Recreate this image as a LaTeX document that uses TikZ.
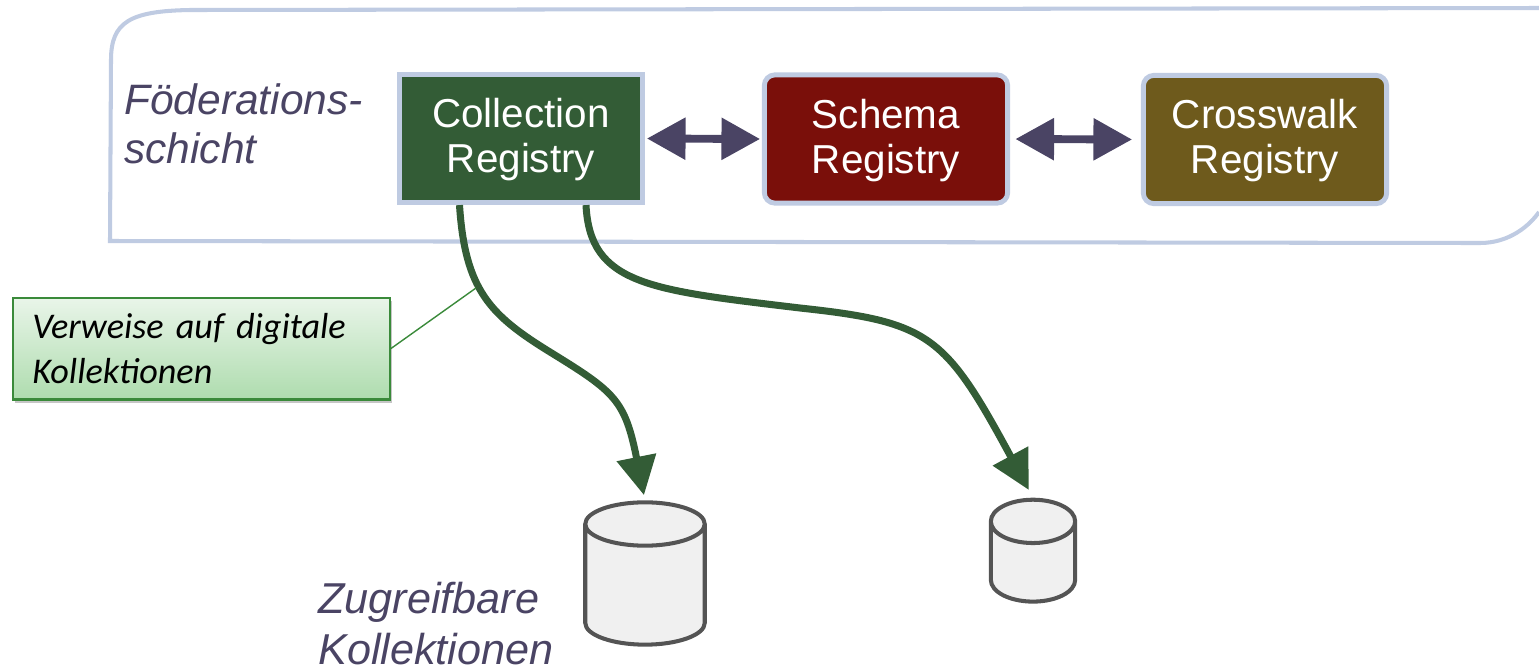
\documentclass[tikz,border=0pt]{standalone}
\usepackage{fontspec}
\setmainfont{Liberation Sans}
\newfontfamily\calloutfont{Carlito}
\usetikzlibrary{arrows.meta,shapes.geometric,shadows}
\definecolor{edgeblue}{HTML}{BFCBE2}
\definecolor{slatetext}{HTML}{4A4464}
\definecolor{collgreen}{HTML}{335C36}
\definecolor{schemared}{HTML}{7A0F0A}
\definecolor{walkbrown}{HTML}{6E5A1C}
\definecolor{noteline}{HTML}{3A8A3A}
\definecolor{notetop}{HTML}{E9F5E9}
\definecolor{notebottom}{HTML}{AEDCAE}
\tikzset{
    regbox/.style={draw=edgeblue, line width=2.8pt, minimum width=138.5pt, minimum height=73pt, align=center, text=white, font=\fontsize{23}{25.5}\selectfont, text height=43.8pt},
    layerlabel/.style={align=left, text=slatetext, font=\fontsize{24.2}{28.3}\selectfont\itshape},
    dbstore/.style={draw=black!67, fill=black!6, line width=2.3pt, shape=cylinder, shape border rotate=90, aspect=3.7},
    linkarrow/.style={draw=slatetext, line width=4.5pt, {Triangle[length=22pt,width=23pt]}-{Triangle[length=22pt,width=23pt]}},
    refarrow/.style={draw=collgreen, line width=4pt, -{Triangle[length=22pt,width=22pt]}}
}
\begin{document}
\begin{tikzpicture}[x=0.02cm,y=-0.02cm]
            \useasboundingbox (0,0) rectangle (1539,667);
            % outer layer frame
            \draw[edgeblue, line width=2.3pt] (1539,8)--(190,10) .. controls (130,11) and (111,22) .. (111,60)--(110,241)--(1480,243) .. controls (1510,243) and (1530,225) .. (1539,212);
            \node[layerlabel, anchor=north west] (layer) at (118,77) {Föderations-\\schicht};
            \node[regbox, fill=collgreen] (coll) at (521,138.5) {Collection\\Registry};
            \node[regbox, fill=schemared, rounded corners=6pt] (schema) at (886,139) {Schema\\Registry};
            \node[regbox, fill=walkbrown, rounded corners=6pt] (walk) at (1265,139.5) {Crosswalk\\Registry};
            \draw[linkarrow, shorten >=1pt, shorten <=1pt] (coll.east)--(schema.west);
            \draw[linkarrow, shorten >=5pt, shorten <=3pt] (schema.east)--(walk.west);
            % collections
            \node[dbstore, minimum width=68pt, minimum height=81pt] (bigdb) at (645,590) {};
            \node[dbstore, minimum width=48pt, minimum height=58pt] (smalldb) at (1033,568) {};
            \node[layerlabel, anchor=north west, font=\fontsize{24.6}{29}\selectfont\itshape] (access) at (312,576) {Zugreifbare\\Kollektionen};
            \draw[refarrow, shorten >=3pt] ([xshift=-35pt]coll.south) .. controls (465,290) and (490,315) .. (550,352) .. controls (615,392) and (625,400) .. (bigdb.north);
            \draw[refarrow, shorten >=5pt] ([xshift=37pt]coll.south) .. controls (590,285) and (650,290) .. (800,308) .. controls (930,322) and (945,335) .. (smalldb.north);
            % note
            \node[draw=noteline, line width=1.2pt, top color=notetop, bottom color=notebottom, drop shadow={opacity=0.45, shadow xshift=1pt, shadow yshift=-2pt}, minimum width=214.5pt, minimum height=58pt, align=left, anchor=north west, text width=192.6pt, inner sep=0pt, font=\calloutfont\itshape\fontsize{20.6}{25.5}\selectfont] (note) at (12,296.5) {Verweise auf digitale\\Kollektionen};
            \coordinate (notetip) at (476,288);
            \draw[noteline, line width=0.8pt] (note.east)--(notetip);
\end{tikzpicture}
\end{document}
